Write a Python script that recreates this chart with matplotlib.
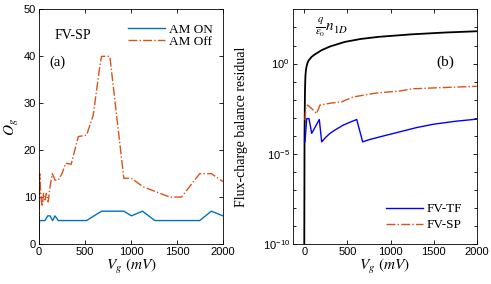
import matplotlib.pyplot as plt
import numpy as np

plt.rcParams['mathtext.fontset'] = 'stix'
plt.rcParams['font.family'] = 'Liberation Sans'

# (a) iteration count vs gate voltage
vg_on = [0, 5, 65, 94, 120, 148, 174, 210, 517, 680, 922, 1005, 1125, 1259, 1747, 1873, 2000]
og_on = [1, 5, 5, 6, 6, 5, 6, 5, 5, 7, 7, 6, 7, 5, 5, 7, 6]

vg_off = [0, 8, 15, 25, 35, 50, 65, 80, 100, 120, 145, 175, 210, 250, 290, 350, 427, 517,
          589, 662, 680, 770, 922, 1005, 1132, 1421, 1548, 1747, 1873, 2000]
og_off = [1, 15, 12.2, 9.4, 8, 10.8, 9.4, 10.8, 9, 12.2, 15, 13.6, 13.6, 15, 17.2, 17, 22.9, 23.2,
          27.4, 38, 40, 40, 14, 14, 12.2, 10, 10, 15, 15, 13.3]

# (b) residuals (log10 values)
vg_n = [0, 3, 8, 13, 19, 25, 35, 50, 85, 120, 200, 300, 470, 650, 860, 1245, 1630, 2000]
logn = [-10, -4, -1.5, -0.7, -0.37, -0.2, 0, 0.17, 0.37, 0.5, 0.74, 0.95, 1.2, 1.36, 1.48, 1.62, 1.72, 1.79]

vg_tf = [8, 28, 55, 86, 174, 202, 250, 298, 350, 452, 530, 608, 677, 750, 878, 1110, 1300, 1500, 1750, 2000]
log_tf = [-4.34, -3.05, -3.05, -3.87, -3.1, -4.34, -4.08, -3.87, -3.7, -3.41, -3.25, -3.1,
          -4.34, -4.22, -4.06, -3.78, -3.55, -3.36, -3.2, -3.08]

vg_sp = [8, 20, 40, 86, 144, 182, 298, 434, 566, 840, 1110, 1250, 1500, 2000]
log_sp = [-3.14, -2.4, -2.3, -2.5, -2.77, -2.3, -2.2, -2.12, -1.85, -1.63, -1.52, -1.4, -1.35, -1.26]

fig = plt.figure(figsize=(4.91, 2.84), dpi=100)
ax1 = fig.add_axes([0.0794, 0.1408, 0.3748, 0.826])
ax2 = fig.add_axes([0.596, 0.1408, 0.375, 0.826])

serif = 'Liberation Serif'
orange = '#D95319'

ax1.plot(vg_on, og_on, color='#0072BD', lw=1.0, label='AM ON')
ax1.plot(vg_off, og_off, color=orange, lw=1.0, ls='-.', label='AM Off')
ax1.set_xlim(0, 2000)
ax1.set_ylim(0, 50)
ax1.set_xticks([0, 500, 1000, 1500, 2000])
ax1.set_yticks([0, 10, 20, 30, 40, 50])
ax1.set_xlabel(r'$V_g\ (mV)$', fontsize=11, labelpad=0)
ax1.set_ylabel(r'$O_g$', fontsize=11, labelpad=2)
ax1.text(170, 44.5, 'FV-SP', family=serif, fontsize=10, va='center')
ax1.text(110, 38.7, '(a)', family=serif, fontsize=10.5, va='center')
ax1.legend(loc='upper left', bbox_to_anchor=(0.484, 0.94), frameon=False,
           prop={'family': serif, 'size': 9.5}, handlelength=2.8, handletextpad=0.3,
           borderpad=0, borderaxespad=0, labelspacing=0.0)

ax2.plot(vg_n, 10 ** np.array(logn), color='black', lw=1.3)
ax2.plot(vg_tf, 10 ** np.array(log_tf), color='blue', lw=1.0, label='FV-TF')
ax2.plot(vg_sp, 10 ** np.array(log_sp), color=orange, lw=1.0, ls='-.', label='FV-SP')
ax2.set_yscale('log')
ax2.set_xlim(-135, 2000)
ax2.set_ylim(1e-10, 1e3)
ax2.set_xticks([0, 500, 1000, 1500, 2000])
ax2.set_yticks([1e-10, 1e-5, 1e0])
ax2.set_yticks([10.0 ** k for k in range(-10, 3)], minor=True)
ax2.yaxis.set_minor_formatter(plt.NullFormatter())
ax2.set_xlabel(r'$V_g\ (mV)$', fontsize=11, labelpad=0)
ax2.set_ylabel('Flux-charge balance residual', family=serif, fontsize=10)
ax2.yaxis.set_label_coords(-0.24, 0.5)
ax2.text(120, 10 ** 1.75, r'$\frac{q}{\epsilon_0}n_{1D}$', fontsize=11)
ax2.text(1530, 10 ** -0.15, '(b)', family=serif, fontsize=11)
ax2.legend(loc='upper left', bbox_to_anchor=(0.507, 0.175), frameon=False,
           prop={'family': serif, 'size': 9.5}, handlelength=2.8, handletextpad=0.3,
           borderpad=0, borderaxespad=0, labelspacing=0.3)

for ax in (ax1, ax2):
    ax.tick_params(which='both', direction='in', top=True, right=True, labelsize=8,
                   length=3, width=0.6, pad=2)
    ax.tick_params(which='minor', length=2)
    for s in ax.spines.values():
        s.set_linewidth(0.6)

fig.savefig('out.png', dpi=100)
